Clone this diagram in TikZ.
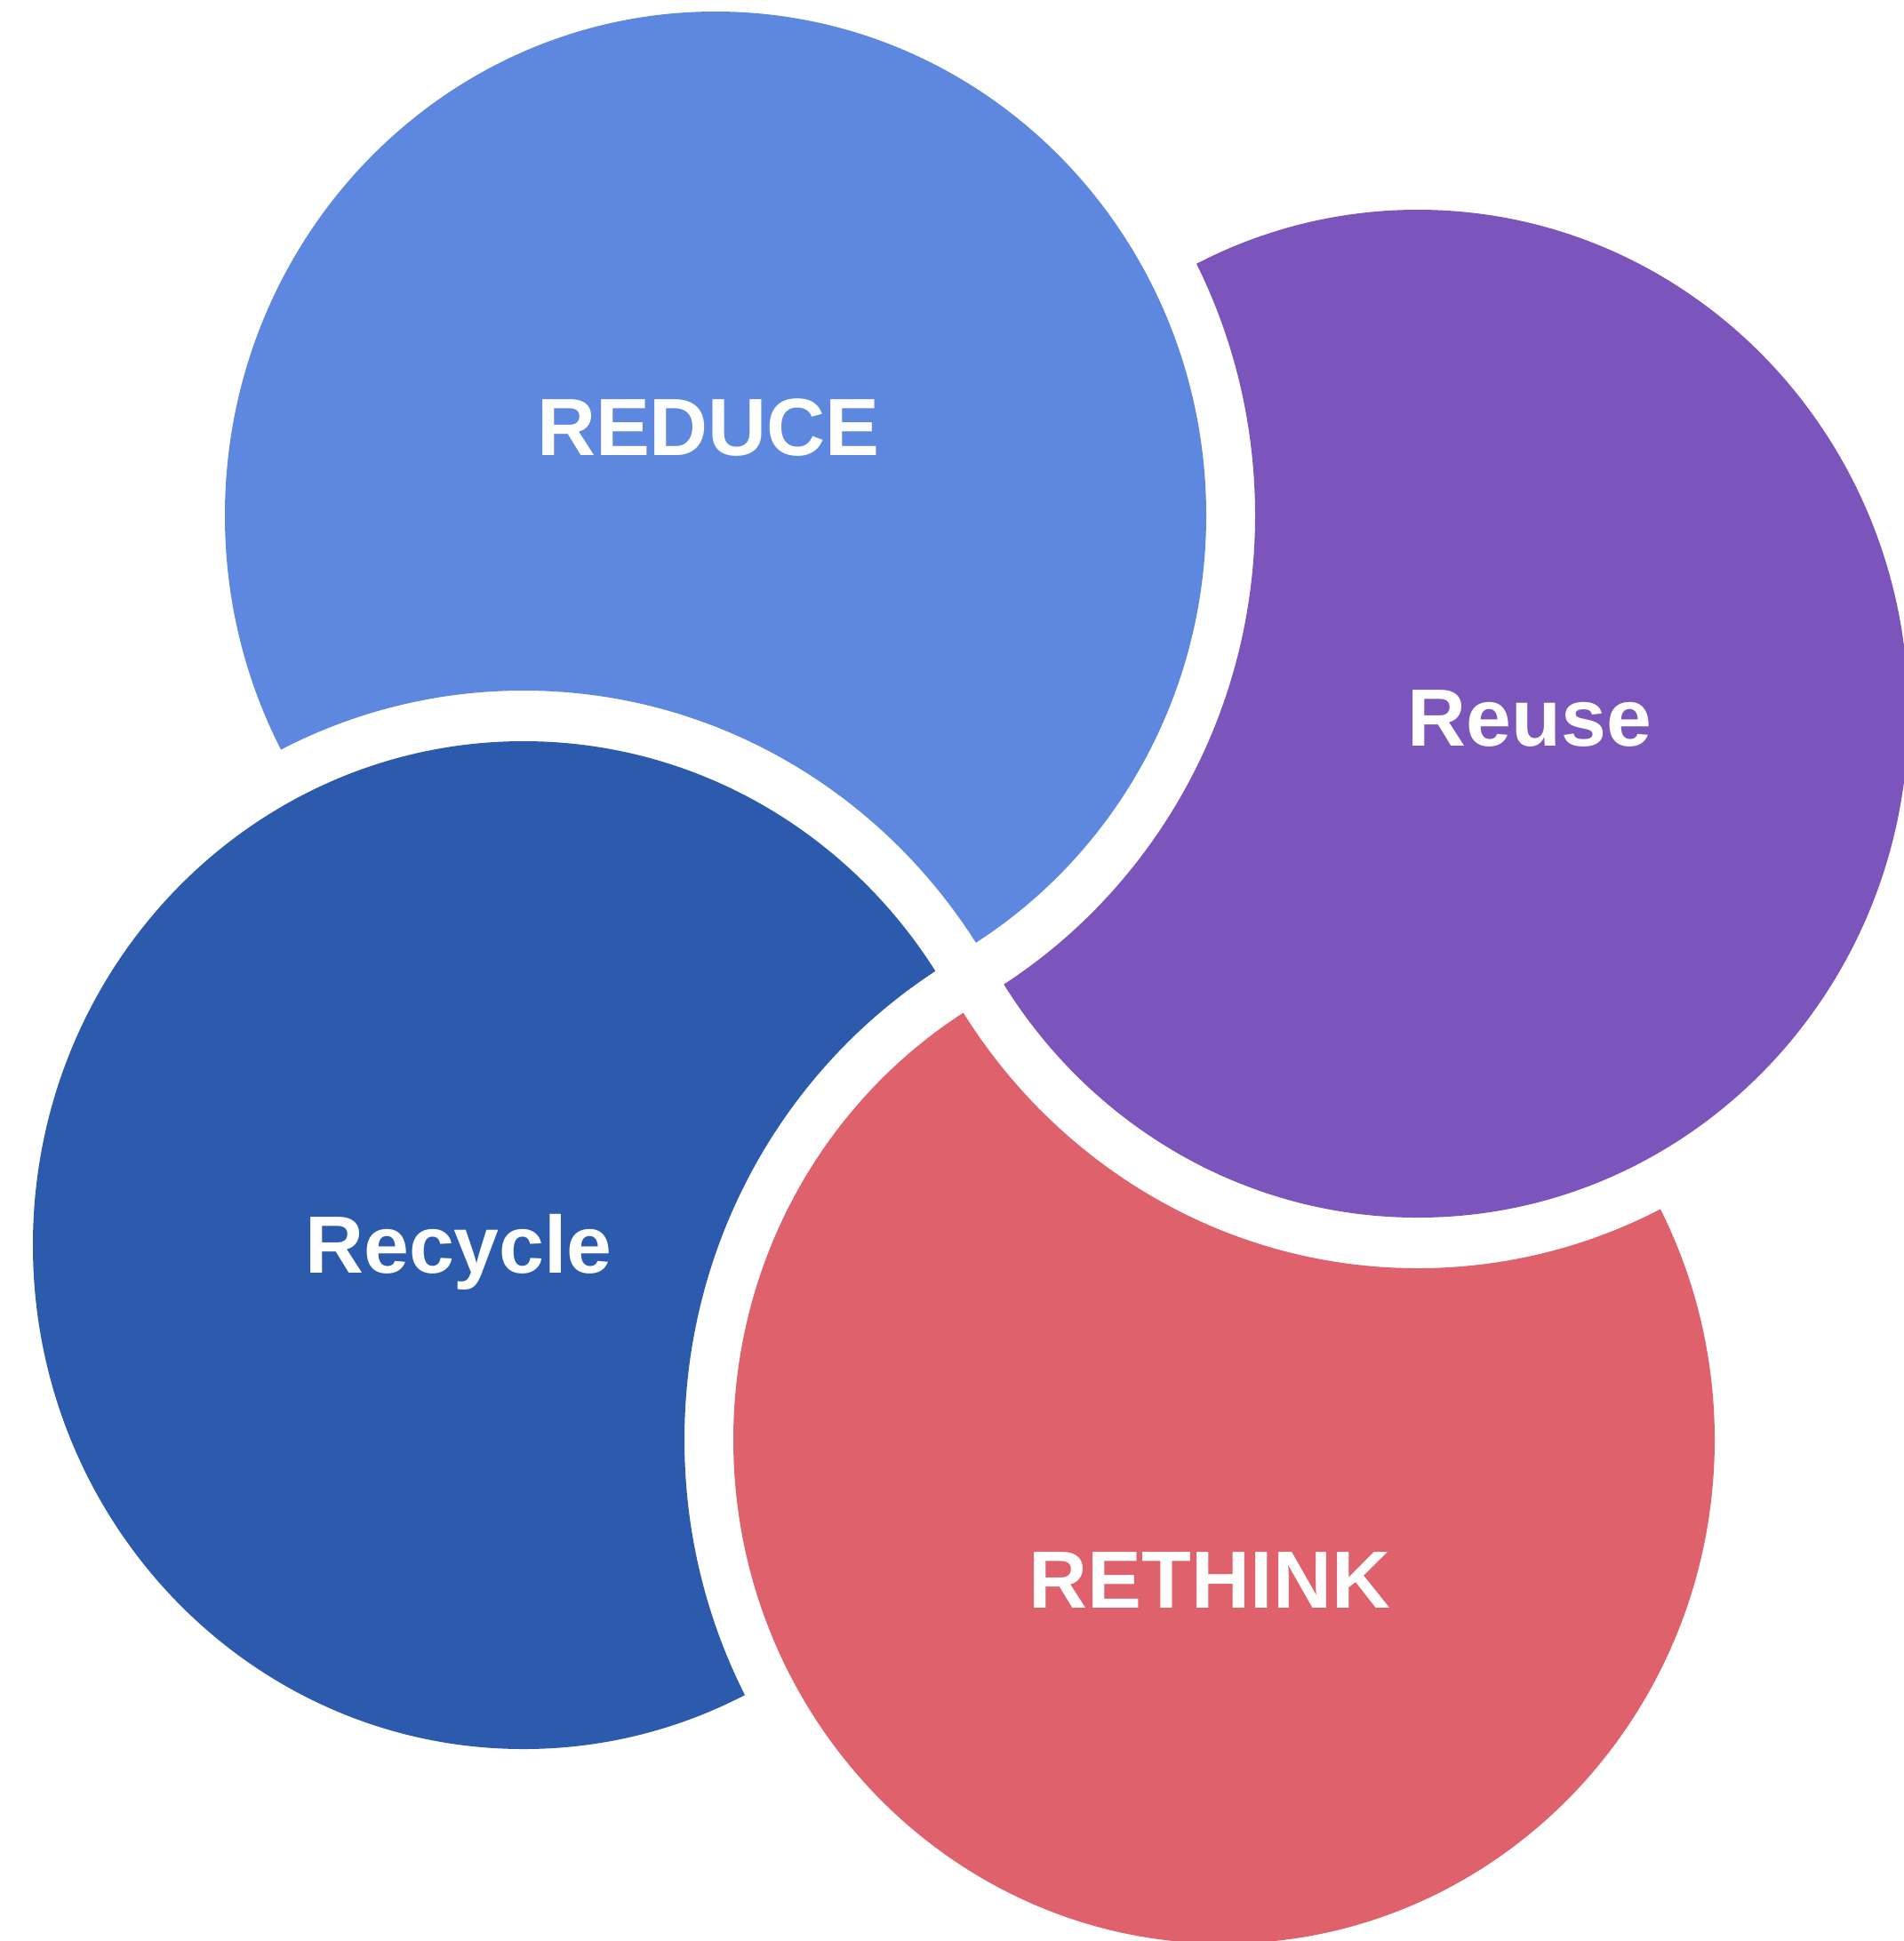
\documentclass[tikz,border=0pt]{standalone}
\usepackage{fontspec}
\setmainfont{Liberation Sans}
\definecolor{reduceblue}{RGB}{94,136,224}
\definecolor{reusepurple}{RGB}{123,85,187}
\definecolor{recycleblue}{RGB}{44,90,172}
\definecolor{rethinkred}{RGB}{222,97,108}
\begin{document}
\begin{tikzpicture}[
        word/.style={text=white, font=\fontsize{26}{31}\selectfont\bfseries, anchor=base, inner sep=0pt},
        ringdisc/.style={x radius=5.52cm, y radius=5.67cm},
        ringcut/.style={x radius=6.07cm, y radius=6.24cm}
    ]
        \useasboundingbox (0,0) rectangle (21.42,-21.84);

        % Centres
        \coordinate (reduceC) at (8.05,-5.80);
        \coordinate (reuseC) at (15.95,-8.03);
        \coordinate (recycleC) at (5.89,-14.01);
        \coordinate (rethinkC) at (13.77,-16.20);

        % Reduce, cut by Recycle
        \begin{scope}[even odd rule]
            \clip (0,0) rectangle (21.42,-21.84) (recycleC) ellipse [ringcut];
            \fill[reduceblue] (reduceC) ellipse [ringdisc];
        \end{scope}
        % Reuse, cut by Reduce
        \begin{scope}[even odd rule]
            \clip (0,0) rectangle (21.42,-21.84) (reduceC) ellipse [ringcut];
            \fill[reusepurple] (reuseC) ellipse [ringdisc];
        \end{scope}
        % Recycle, cut by Rethink
        \begin{scope}[even odd rule]
            \clip (0,0) rectangle (21.42,-21.84) (rethinkC) ellipse [ringcut];
            \fill[recycleblue] (recycleC) ellipse [ringdisc];
        \end{scope}
        % Rethink, cut by Reuse
        \begin{scope}[even odd rule]
            \clip (0,0) rectangle (21.42,-21.84) (reuseC) ellipse [ringcut];
            \fill[rethinkred] (rethinkC) ellipse [ringdisc];
        \end{scope}

        % Words
        \node[word] (reduce) at (7.97,-5.12) {REDUCE};
        \node[word] (reuse) at (17.21,-8.39) {Reuse};
        \node[word] (recycle) at (5.16,-14.32) {Recycle};
        \node[word] (rethink) at (13.61,-18.09) {RETHINK};

    \end{tikzpicture}
\end{document}
